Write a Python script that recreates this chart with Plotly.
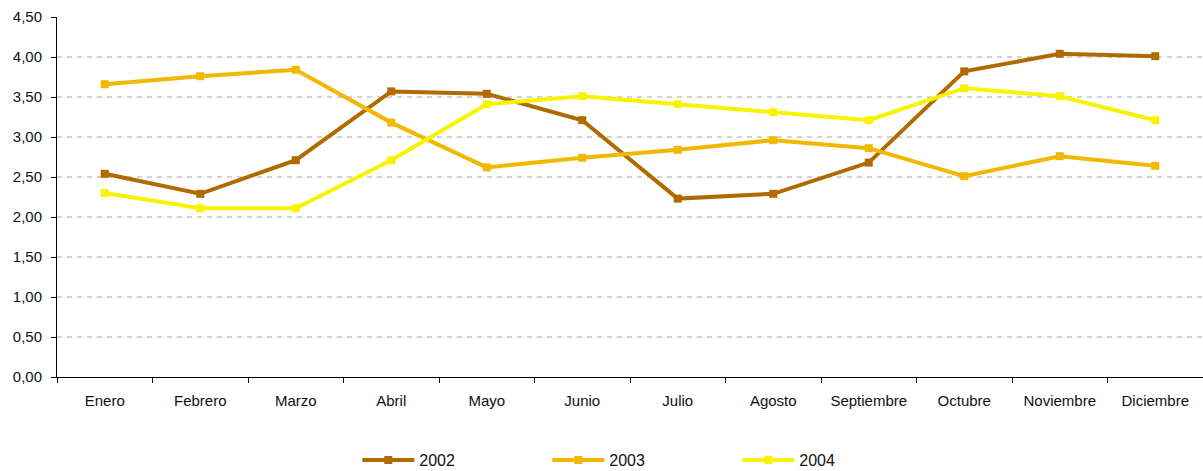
import plotly.graph_objects as go

months = ["Enero", "Febrero", "Marzo", "Abril", "Mayo", "Junio", "Julio",
          "Agosto", "Septiembre", "Octubre", "Noviembre", "Diciembre"]
v2002 = [2.54, 2.29, 2.71, 3.57, 3.54, 3.21, 2.23, 2.29, 2.68, 3.82, 4.04, 4.01]
v2003 = [3.66, 3.76, 3.84, 3.18, 2.62, 2.74, 2.84, 2.96, 2.86, 2.51, 2.76, 2.64]
v2004 = [2.30, 2.11, 2.11, 2.71, 3.41, 3.51, 3.41, 3.31, 3.21, 3.61, 3.51, 3.21]
series = [("2002", v2002, "#B06A00"), ("2003", v2003, "#F2B800"), ("2004", v2004, "#F8F400")]
y_ticks = [0, 0.5, 1, 1.5, 2, 2.5, 3, 3.5, 4, 4.5]

fig = go.Figure()
for name, vals, col in series:
    fig.add_trace(go.Scatter(
        x=months, y=vals, name=name, mode="lines+markers",
        line=dict(color=col, width=4),
        marker=dict(symbol="square", size=8, color=col),
    ))

fig.update_layout(
    width=1203, height=471,
    margin=dict(l=57, r=0, t=17, b=94),
    plot_bgcolor="white", paper_bgcolor="white",
    separators=",.",
    font=dict(family="Liberation Sans, Arial, sans-serif", size=15, color="#111111"),
    showlegend=True,
    legend=dict(orientation="h", xref="container", yref="container",
                x=0.297, xanchor="left", y=0.023, yanchor="middle",
                entrywidth=123, entrywidthmode="pixels", itemwidth=52,
                font=dict(size=16)),
    xaxis=dict(showgrid=False, showline=True, linecolor="black", linewidth=1,
               ticks="outside", ticklen=5, tickcolor="black", tickson="boundaries",
               ticklabelstandoff=10, range=[-0.5, 11.5]),
    yaxis=dict(range=[0, 4.5], tickvals=y_ticks, tickformat=".2f",
               showline=True, linecolor="black", linewidth=1,
               ticks="outside", ticklen=5, tickcolor="black",
               showgrid=True, gridcolor="#D3D3D3", gridwidth=2, griddash="5px,5px",
               zeroline=False, ticklabelstandoff=6, tickfont=dict(size=15)),
)

fig.write_html("out.html", config={"displayModeBar": False},
               post_script="document.body.style.margin='0';")
